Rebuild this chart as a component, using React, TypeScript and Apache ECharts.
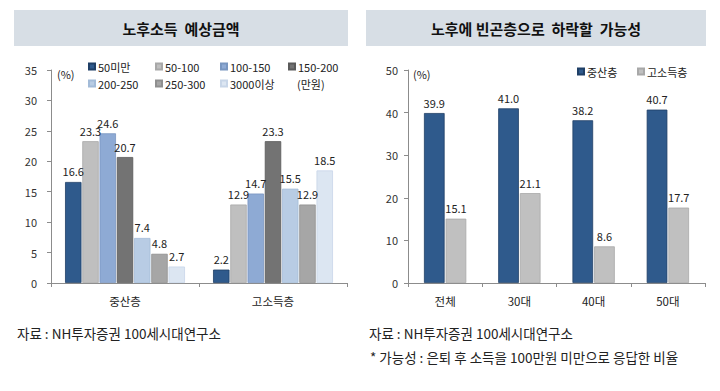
import React, { useEffect, useRef } from "react";
import * as echarts from "echarts";

const leftCategories = ["중산층", "고소득층"];
const incomeBands = ["50미만", "50-100", "100-150", "150-200", "200-250", "250-300", "3000이상"];
const band50Under = [16.6, 2.2];
const band50to100 = [23.3, 12.9];
const band100to150 = [24.6, 14.7];
const band150to200 = [20.7, 23.3];
const band200to250 = [7.4, 15.5];
const band250to300 = [4.8, 12.9];
const band300Over = [2.7, 18.5];
const leftTicks = [0, 5, 10, 15, 20, 25, 30, 35];

const rightCategories = ["전체", "30대", "40대", "50대"];
const rightSeriesNames = ["중산층", "고소득층"];
const middleClass = [39.9, 41.0, 38.2, 40.7];
const highIncome = [15.1, 21.1, 8.6, 17.7];
const rightTicks = [0, 10, 20, 30, 40, 50];

const leftTitle = "노후소득  예상금액";
const rightTitle = "노후에 빈곤층으로  하락할  가능성";
const sourceText = "자료 : NH투자증권 100세시대연구소";
const noteText = "* 가능성 : 은퇴 후 소득을 100만원 미만으로 응답한 비율";

const FONT = "'Noto Sans CJK KR', 'Noto Sans', sans-serif";

export default function App() {
  const ref = useRef<HTMLDivElement>(null);
  useEffect(() => {
    if (!ref.current) return;
    const chart = echarts.init(ref.current, undefined, { renderer: "svg" });
    const leftData = [band50Under, band50to100, band100to150, band150to200, band200to250, band250to300, band300Over];
    const leftColors = ["#2f5a8c", "#bfbfbf", "#8eaad4", "#737373", "#b8cce4", "#a6a6a6", "#dce6f2"];
    const leftBorders = ["#1f3f66", "#a8a8a8", "#7896c0", "#5a5a5a", "#a3bbd8", "#8f8f8f", "#c8d6e8"];
    const legendPos = [
      [88, 61], [155, 61], [220, 61], [288, 61],
      [88, 78], [155, 78], [220, 78],
    ];
    const labelStyle = { show: true, position: "top" as const, color: "#222", fontSize: 11, fontFamily: FONT, distance: 5, formatter: (p: any) => Number(p.value).toFixed(1) };
    const axisLine = { show: true, lineStyle: { color: "#8c8c8c", width: 1 } };

    const series: any[] = leftData.map((d, i) => ({
      name: incomeBands[i],
      type: "bar",
      xAxisIndex: 0,
      yAxisIndex: 0,
      data: d,
      barGap: "5%",
      barCategoryGap: "19%",
      itemStyle: { color: leftColors[i], borderColor: leftBorders[i], borderWidth: 0.8 },
      label: labelStyle,
    }));
    series.push({
      name: rightSeriesNames[0], type: "bar", xAxisIndex: 1, yAxisIndex: 1, data: middleClass,
      barGap: "5%", barCategoryGap: "43%",
      itemStyle: { color: "#2f5a8c", borderColor: "#1f3f66", borderWidth: 0.8 }, label: labelStyle,
    });
    series.push({
      name: rightSeriesNames[1], type: "bar", xAxisIndex: 1, yAxisIndex: 1, data: highIncome,
      barGap: "5%", barCategoryGap: "43%",
      itemStyle: { color: "#c0c0c0", borderColor: "#a8a8a8", borderWidth: 0.8 }, label: labelStyle,
    });

    const legends: any[] = incomeBands.map((n, i) => ({
      data: [n], left: legendPos[i][0], top: legendPos[i][1], itemWidth: 6, itemHeight: 6, icon: "rect",
      itemGap: 4, padding: 0, textStyle: { fontSize: 11, fontFamily: FONT, color: "#222", padding: [0, 0, 0, -2] },
    }));
    legends.push({
      data: [rightSeriesNames[0]], left: 577, top: 66, itemWidth: 6, itemHeight: 6, icon: "rect", padding: 0,
      textStyle: { fontSize: 11, fontFamily: FONT, color: "#222", padding: [0, 0, 0, -2] },
    });
    legends.push({
      data: [rightSeriesNames[1]], left: 637, top: 66, itemWidth: 6, itemHeight: 6, icon: "rect", padding: 0,
      textStyle: { fontSize: 11, fontFamily: FONT, color: "#222", padding: [0, 0, 0, -2] },
    });

    const yLabel = (margin: number) => ({ color: "#333", fontSize: 11, fontFamily: FONT, margin });

    chart.setOption({
      animation: false,
      textStyle: { fontFamily: FONT },
      legend: legends,
      grid: [
        { left: 51, right: 373, top: 70, bottom: 108 },
        { left: 408, right: 15, top: 70, bottom: 108 },
      ],
      xAxis: [
        {
          type: "category", gridIndex: 0, data: leftCategories, axisLine,
          axisTick: { show: true, length: 4, lineStyle: { color: "#8c8c8c" } },
          axisLabel: { color: "#222", fontSize: 11.5, fontFamily: FONT, margin: 12 },
        },
        {
          type: "category", gridIndex: 1, data: rightCategories, axisLine,
          axisTick: { show: true, length: 4, lineStyle: { color: "#8c8c8c" } },
          axisLabel: { color: "#222", fontSize: 11.5, fontFamily: FONT, margin: 12 },
        },
      ],
      yAxis: [
        {
          type: "value", gridIndex: 0, min: leftTicks[0], max: leftTicks[leftTicks.length - 1], interval: 5,
          axisLine, axisTick: { show: true, length: 4, lineStyle: { color: "#8c8c8c" } },
          splitLine: { show: false }, axisLabel: yLabel(14),
        },
        {
          type: "value", gridIndex: 1, min: rightTicks[0], max: rightTicks[rightTicks.length - 1], interval: 10,
          axisLine, axisTick: { show: true, length: 4, lineStyle: { color: "#8c8c8c" } },
          splitLine: { show: false }, axisLabel: yLabel(10),
        },
      ],
      series,
      graphic: [
        { type: "rect", shape: { x: 14, y: 10, width: 334, height: 36 }, style: { fill: "#d7dee5" }, silent: true },
        { type: "text", x: 181, y: 28, style: { text: leftTitle, fontSize: 15, fontWeight: "bold", fontFamily: FONT, fill: "#111", align: "center", verticalAlign: "middle" } },
        { type: "rect", shape: { x: 366, y: 10, width: 340, height: 36 }, style: { fill: "#d7dee5" }, silent: true },
        { type: "text", x: 536, y: 28, style: { text: rightTitle, fontSize: 15, fontWeight: "bold", fontFamily: FONT, fill: "#111", align: "center", verticalAlign: "middle" } },
        { type: "text", x: 57, y: 74, style: { text: "(%)", fontSize: 11, fontFamily: FONT, fill: "#222", verticalAlign: "middle" } },
        { type: "text", x: 413, y: 74, style: { text: "(%)", fontSize: 11, fontFamily: FONT, fill: "#222", verticalAlign: "middle" } },
        { type: "text", x: 297, y: 84, style: { text: "(만원)", fontSize: 11, fontFamily: FONT, fill: "#222", verticalAlign: "middle" } },
        { type: "text", x: 17, y: 333, style: { text: sourceText, fontSize: 13.5, fontFamily: FONT, fill: "#222", verticalAlign: "middle" } },
        { type: "text", x: 369, y: 333, style: { text: sourceText, fontSize: 13.5, fontFamily: FONT, fill: "#222", verticalAlign: "middle" } },
        { type: "text", x: 370, y: 357, style: { text: noteText, fontSize: 13.5, fontFamily: FONT, fill: "#222", verticalAlign: "middle" } },
      ],
    });
    return () => chart.dispose();
  }, []);
  return <div ref={ref} style={{ position: "fixed", left: 0, top: 0, width: 720, height: 391, background: "#fff" }} />;
}
